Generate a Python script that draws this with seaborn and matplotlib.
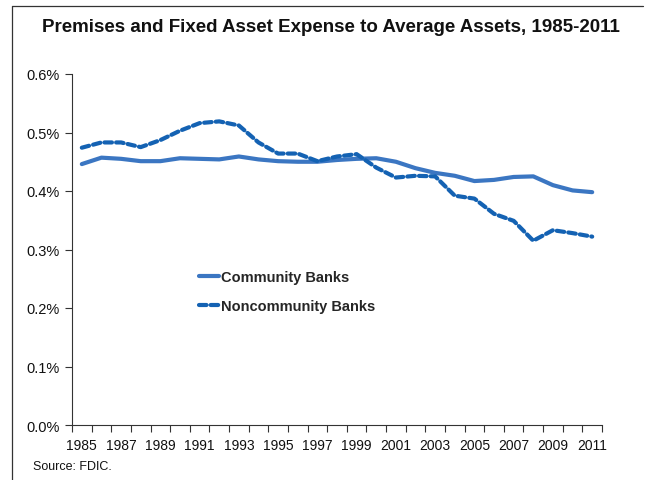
import matplotlib
matplotlib.use("Agg")
import matplotlib.pyplot as plt
from matplotlib.lines import Line2D
from matplotlib.ticker import FuncFormatter
import seaborn as sns
import pandas as pd

years = list(range(1985, 2012))
community = [0.446, 0.457, 0.455, 0.451, 0.451, 0.456, 0.455, 0.454, 0.459, 0.454,
             0.451, 0.450, 0.450, 0.453, 0.455, 0.456, 0.450, 0.439, 0.431, 0.426,
             0.417, 0.419, 0.424, 0.425, 0.410, 0.401, 0.398]
noncommunity = [0.474, 0.483, 0.483, 0.475, 0.487, 0.503, 0.516, 0.519, 0.512, 0.483,
                0.464, 0.464, 0.451, 0.459, 0.463, 0.440, 0.423, 0.426, 0.425, 0.392,
                0.387, 0.361, 0.349, 0.315, 0.333, 0.328, 0.322]
year_labels = list(range(1985, 2012, 2))
y_ticks = [0.0, 0.1, 0.2, 0.3, 0.4, 0.5, 0.6]

sns.set_theme(style="white")
plt.rcParams['font.family'] = ['Liberation Sans', 'DejaVu Sans']

df = pd.DataFrame({"Year": years, "Community Banks": community,
                   "Noncommunity Banks": noncommunity})

fig = plt.figure(figsize=(6.48, 4.81), dpi=100)
ax = fig.add_axes([72 / 648, 1 - 426 / 481, 530 / 648, 351 / 481])

sns.lineplot(data=df, x="Year", y="Community Banks", ax=ax, color="#3b76c2",
             linewidth=3.0, label="Community Banks")
sns.lineplot(data=df, x="Year", y="Noncommunity Banks", ax=ax, color="#1462b3",
             linewidth=3.0, linestyle=(0, (1.8, 1.0)), dash_capstyle="round",
             label="Noncommunity Banks")

ax.set_xlim(1984.5, 2011.5)
ax.set_ylim(0, 0.6)
ax.set_xlabel("")
ax.set_ylabel("")
ax.set_yticks(y_ticks)
ax.yaxis.set_major_formatter(FuncFormatter(lambda v, p: f"{v:.1f}%"))
ax.set_xticks(year_labels)
ax.set_xticks([y - 0.5 for y in years] + [2011.5], minor=True)
ax.tick_params(axis="x", which="both", bottom=True)
ax.tick_params(axis="y", which="both", left=True)
ax.tick_params(axis="x", which="major", length=0, pad=9, labelsize=10, colors="#111111")
ax.tick_params(axis="x", which="minor", length=5, direction="out", color="#333333", width=0.8)
ax.tick_params(axis="y", length=5, direction="out", color="#333333", width=0.8,
               labelsize=10.5, labelcolor="#111111", pad=4)
for s in ["top", "right"]:
    ax.spines[s].set_visible(False)
for s in ["left", "bottom"]:
    ax.spines[s].set_color("#333333")
    ax.spines[s].set_linewidth(0.8)

leg = ax.legend(loc="upper left", bbox_to_anchor=(0.215, 0.48), frameon=False,
                handlelength=1.4, handletextpad=0.1, labelspacing=1.08,
                prop={"weight": "bold", "size": 10.5})

fig.text(0.51, 1 - 28 / 481, "Premises and Fixed Asset Expense to Average Assets, 1985-2011",
         ha="center", va="center", fontsize=13.5, fontweight="bold", color="#111111")
fig.text(33 / 648, 1 - 467 / 481, "Source: FDIC.", ha="left", va="center",
         fontsize=9, color="#111111")

fig.add_artist(Line2D([12 / 648, 12 / 648], [0, 1 - 7 / 481], transform=fig.transFigure,
                      color="#333333", linewidth=0.9))
fig.add_artist(Line2D([12 / 648, 643 / 648], [1 - 7 / 481, 1 - 7 / 481],
                      transform=fig.transFigure, color="#333333", linewidth=0.9))

fig.savefig("out.png", dpi=100)
